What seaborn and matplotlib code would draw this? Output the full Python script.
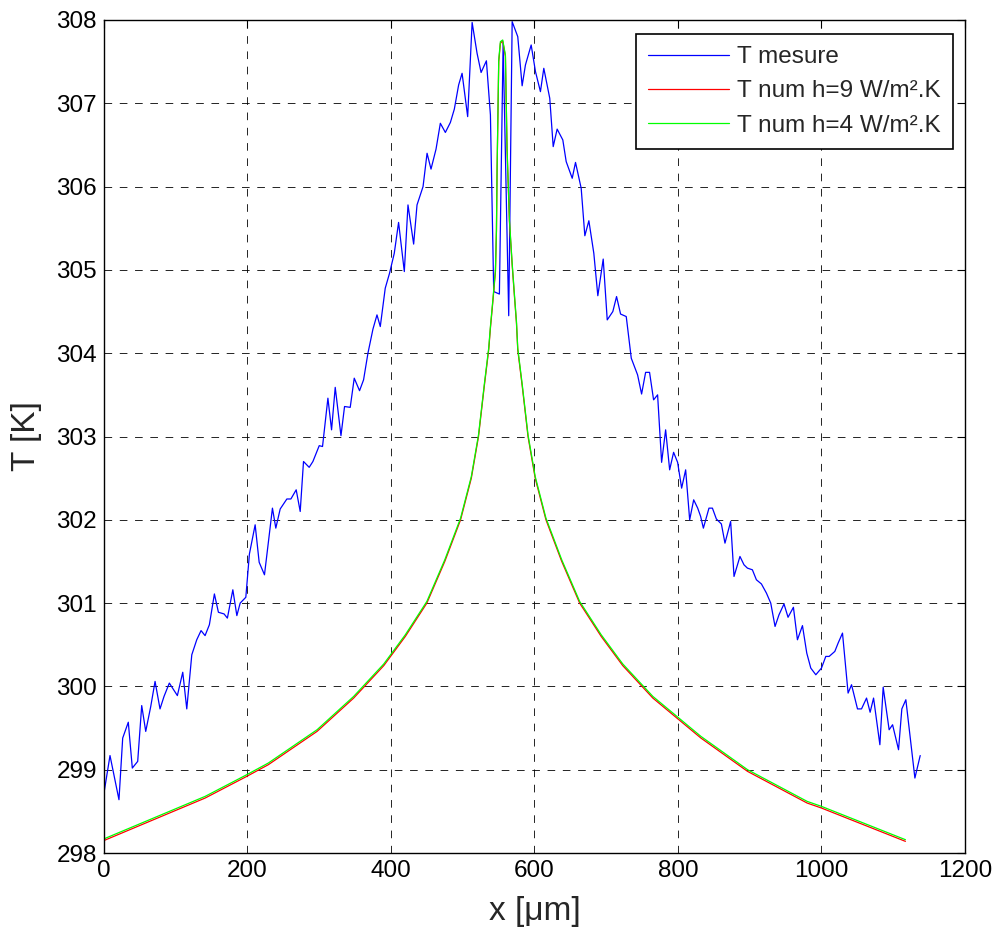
"""
Measured vs. simulated temperature profile along the sample (MATLAB-style look).
"""

import matplotlib
matplotlib.use("Agg")
import matplotlib.pyplot as plt
import pandas as pd
import seaborn as sns


# --- Measured temperature (blue) ---
X_MES = [
    0, 8.4, 20.9, 26.1, 33.9, 39.5, 47.0, 52.6, 58.2, 65.2, 71.2, 78.1, 83.7, 91.1,
    102.3, 109.8, 115.4, 122.4, 129.3, 135.3, 140.9, 146.9, 153.9, 159.5, 167.4,
    172.0, 179.6, 185.2, 189.8, 197.7, 202.7, 210.7, 216.3, 223.7, 234.8, 239.5,
    245.6, 254.9, 260.5, 267.9, 273.5, 278.1, 286.0, 291.2, 300.0, 304.6, 312.1,
    317.2, 322.3, 330.3, 335.3, 343.2, 348.8, 356.2, 361.8, 367.9, 374.9, 380.5,
    385.1, 392.0, 398.0, 404.6, 410.6, 418.6, 423.7, 431.6, 436.3, 444.7, 450.3,
    455.8, 462.8, 468.8, 475.8, 482.8, 488.3, 494.3, 499.1, 506.9, 513.1, 520.0,
    525.6, 533.0, 538.6, 543.2, 551.1, 556.3, 564.1, 568.9, 576.7, 582.8, 587.4,
    595.4, 601.4, 608.3, 613.0, 621.3, 626.1, 631.6, 639.5, 644.2, 652.6, 657.2,
    665.1, 670.2, 675.8, 682.7, 688.3, 695.8, 701.4, 709.2, 714.4, 720.0, 727.9,
    734.9, 743.7, 749.3, 754.9, 760.4, 766.0, 771.6, 777.2, 782.8, 788.4, 793.9,
    799.5, 805.1, 810.7, 816.3, 821.9, 827.5, 831.6, 835.4, 843.2, 848.0, 853.5,
    860.5, 865.5, 873.4, 878.1, 886.4, 892.0, 896.8, 903.7, 909.3, 916.3, 923.3,
    929.3, 935.3, 940.8, 947.8, 953.4, 960.9, 966.5, 973.5, 979.5, 985.1, 992.1,
    1000.0, 1006.0, 1010.7, 1018.6, 1023.2, 1029.3, 1037.1, 1041.9, 1050.2,
    1055.8, 1062.8, 1067.8, 1072.6, 1081.4, 1086.0, 1094.3, 1099.1, 1107.4,
    1112.0, 1117.6, 1130.2, 1137.6,
]
T_MES = [
    298.72, 299.17, 298.64, 299.38, 299.57, 299.02, 299.10, 299.77, 299.46, 299.76,
    300.06, 299.73, 299.88, 300.04, 299.89, 300.17, 299.73, 300.38, 300.56, 300.67,
    300.61, 300.74, 301.11, 300.89, 300.87, 300.82, 301.16, 300.85, 301.00, 301.07,
    301.59, 301.94, 301.49, 301.34, 302.14, 301.90, 302.13, 302.25, 302.25, 302.36,
    302.10, 302.70, 302.63, 302.70, 302.89, 302.88, 303.46, 303.08, 303.59, 303.01,
    303.36, 303.35, 303.70, 303.55, 303.68, 304.00, 304.29, 304.46, 304.32, 304.78,
    304.96, 305.20, 305.57, 304.98, 305.78, 305.31, 305.78, 306.00, 306.40, 306.21,
    306.45, 306.76, 306.65, 306.77, 306.93, 307.22, 307.36, 306.84, 307.97, 307.60,
    307.37, 307.51, 306.86, 304.74, 304.71, 307.72, 304.45, 307.98, 307.80, 307.21,
    307.46, 307.70, 307.38, 307.14, 307.42, 307.06, 306.48, 306.69, 306.56, 306.30,
    306.10, 306.29, 305.98, 305.41, 305.59, 305.20, 304.69, 305.13, 304.40, 304.50,
    304.68, 304.47, 304.44, 303.94, 303.74, 303.51, 303.77, 303.77, 303.44, 303.50,
    302.69, 303.08, 302.60, 302.81, 302.69, 302.38, 302.60, 302.00, 302.24, 302.14,
    302.04, 301.90, 302.14, 302.14, 302.01, 301.95, 301.72, 301.98, 301.32, 301.56,
    301.46, 301.42, 301.40, 301.28, 301.23, 301.12, 301.00, 300.72, 300.86, 300.99,
    300.83, 300.95, 300.56, 300.73, 300.40, 300.22, 300.14, 300.22, 300.36, 300.36,
    300.42, 300.52, 300.64, 299.92, 300.02, 299.73, 299.73, 299.86, 299.69, 299.86,
    299.30, 299.99, 299.48, 299.54, 299.24, 299.73, 299.84, 298.90, 299.17,
]

# --- Simulated temperature (red h=9, green h=4) ---
X_NUM = [
    0, 141, 199, 229, 297, 348, 390, 420, 450, 475, 497, 512, 522, 530, 536.2,
    538.6, 541.8, 545.6, 547.0, 547.9, 550.2, 552.5, 555.7, 559.5, 561.8, 565.1,
    568.9, 572.1, 574.9, 576.7, 583, 591, 601, 616, 638, 663, 693, 723, 765, 832,
    897, 980, 1000, 1117,
]
T_H9 = [
    298.15, 298.66, 298.92, 299.06, 299.46, 299.86, 300.25, 300.60, 301.00, 301.50,
    302.00, 302.50, 303.00, 303.60, 304.04, 304.30, 304.60, 304.98, 305.46, 306.20,
    307.50, 307.72, 307.75, 307.56, 306.44, 305.58, 305.06, 304.68, 304.36, 304.04,
    303.60, 303.00, 302.50, 302.00, 301.50, 301.00, 300.60, 300.25, 299.86, 299.38,
    298.98, 298.60, 298.54, 298.14,
]
T_H4 = [
    298.17, 298.68, 298.94, 299.08, 299.48, 299.88, 300.27, 300.62, 301.02, 301.52,
    302.02, 302.52, 303.02, 303.62, 304.06, 304.32, 304.62, 305.00, 305.48, 306.22,
    307.52, 307.74, 307.76, 307.58, 306.46, 305.60, 305.08, 304.70, 304.38, 304.06,
    303.62, 303.02, 302.52, 302.02, 301.52, 301.02, 300.62, 300.27, 299.88, 299.40,
    299.00, 298.62, 298.56, 298.16,
]

LABELS = ["T mesure", "T num h=9 W/m².K", "T num h=4 W/m².K"]
X_TICKS = [0, 200, 400, 600, 800, 1000, 1200]
Y_TICKS = [298, 299, 300, 301, 302, 303, 304, 305, 306, 307, 308]


def main() -> None:
    sns.set_theme(style="white")
    plt.rcParams["font.family"] = ["Liberation Sans", "DejaVu Sans"]
    plt.rcParams["lines.scale_dashes"] = False

    mes = pd.DataFrame({"x": X_MES, "T": T_MES})
    num = pd.DataFrame({"x": X_NUM, "h9": T_H9, "h4": T_H4})

    fig = plt.figure(figsize=(9.94, 9.34), dpi=100)
    ax = fig.add_axes([0.1046, 0.0867, 0.8662, 0.8919])

    sns.lineplot(data=mes, x="x", y="T", ax=ax, color="#0000ff", lw=0.9,
                 estimator=None, sort=False, label=LABELS[0])
    sns.lineplot(data=num, x="x", y="h9", ax=ax, color="#ff0000", lw=0.9,
                 estimator=None, sort=False, label=LABELS[1])
    sns.lineplot(data=num, x="x", y="h4", ax=ax, color="#00ff00", lw=0.9,
                 estimator=None, sort=False, label=LABELS[2])

    ax.set_xlim(0, 1200)
    ax.set_ylim(298, 308)
    ax.set_xticks(X_TICKS)
    ax.set_yticks(Y_TICKS)
    ax.grid(True, color="black", linestyle=(0, (5.5, 5.5)), linewidth=0.6)
    ax.tick_params(direction="in", length=6, width=0.8, labelsize=17.5,
                   top=True, right=True, colors="black", pad=5)
    for sp in ax.spines.values():
        sp.set_visible(True)
        sp.set_color("black")
        sp.set_linewidth(1.0)

    ax.set_xlabel("x [μm]", fontsize=24, labelpad=10)
    ax.set_ylabel("T [K]", fontsize=24, labelpad=10)

    leg = ax.legend(loc="upper right", bbox_to_anchor=(0.986, 0.983),
                    borderaxespad=0, fontsize=17.5, frameon=True, fancybox=False,
                    handlelength=3.3, handletextpad=0.35, labelspacing=0.5,
                    borderpad=0.5)
    leg.get_frame().set_edgecolor("black")
    leg.get_frame().set_linewidth(1.2)
    leg.get_frame().set_alpha(1)

    fig.savefig("out.png", dpi=100, facecolor="white")


if __name__ == "__main__":
    main()
